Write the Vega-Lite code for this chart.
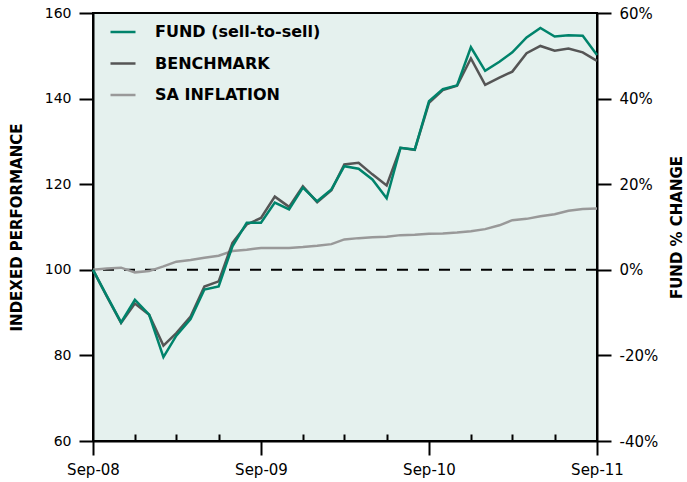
{
  "$schema": "https://vega.github.io/schema/vega-lite/v6.json",
  "width": 504,
  "height": 428,
  "autosize": {"type": "none"},
  "padding": {"left": 93, "top": 13, "right": 90, "bottom": 41},
  "background": "white",
  "config": {
    "font": "DejaVu Sans",
    "view": {"fill": "#e5f1ee", "stroke": "#000", "strokeWidth": 2},
    "axis": {
      "domainColor": "#000", "domainWidth": 2, "tickColor": "#000", "tickWidth": 2,
      "labelColor": "#000", "labelFontSize": 14, "titleFontSize": 15, "titleFontWeight": "bold",
      "titleColor": "#000", "grid": false, "labelFont": "DejaVu Sans", "titleFont": "DejaVu Sans"
    }
  },
  "datasets": {
    "perf": [
      {"date": "2008-09-01", "fund": 100, "benchmark": 100, "inflation": 100},
      {"date": "2008-10-01", "fund": 93.9, "benchmark": 93.8, "inflation": 100.3},
      {"date": "2008-11-01", "fund": 87.7, "benchmark": 87.6, "inflation": 100.5},
      {"date": "2008-12-01", "fund": 93.0, "benchmark": 92.1, "inflation": 99.4},
      {"date": "2009-01-01", "fund": 89.5, "benchmark": 89.5, "inflation": 99.7},
      {"date": "2009-02-01", "fund": 79.6, "benchmark": 82.3, "inflation": 100.8},
      {"date": "2009-03-01", "fund": 84.6, "benchmark": 85.2, "inflation": 101.9},
      {"date": "2009-04-01", "fund": 88.5, "benchmark": 89.1, "inflation": 102.3},
      {"date": "2009-05-01", "fund": 95.4, "benchmark": 96.1, "inflation": 102.8},
      {"date": "2009-06-01", "fund": 96.1, "benchmark": 97.3, "inflation": 103.3},
      {"date": "2009-07-01", "fund": 105.5, "benchmark": 106.3, "inflation": 104.4},
      {"date": "2009-08-01", "fund": 111.0, "benchmark": 110.6, "inflation": 104.7},
      {"date": "2009-09-01", "fund": 111.0, "benchmark": 112.1, "inflation": 105.1},
      {"date": "2009-10-01", "fund": 115.7, "benchmark": 117.1, "inflation": 105.1},
      {"date": "2009-11-01", "fund": 114.1, "benchmark": 114.7, "inflation": 105.1},
      {"date": "2009-12-01", "fund": 119.2, "benchmark": 119.5, "inflation": 105.3},
      {"date": "2010-01-01", "fund": 116.0, "benchmark": 115.8, "inflation": 105.6},
      {"date": "2010-02-01", "fund": 118.8, "benchmark": 118.6, "inflation": 106.0},
      {"date": "2010-03-01", "fund": 124.2, "benchmark": 124.6, "inflation": 107.1},
      {"date": "2010-04-01", "fund": 123.6, "benchmark": 125.0, "inflation": 107.4},
      {"date": "2010-05-01", "fund": 121.1, "benchmark": 122.3, "inflation": 107.6},
      {"date": "2010-06-01", "fund": 116.7, "benchmark": 119.7, "inflation": 107.7},
      {"date": "2010-07-01", "fund": 128.5, "benchmark": 128.5, "inflation": 108.1},
      {"date": "2010-08-01", "fund": 128.1, "benchmark": 128.0, "inflation": 108.2},
      {"date": "2010-09-01", "fund": 139.4, "benchmark": 139.0, "inflation": 108.4},
      {"date": "2010-10-01", "fund": 142.2, "benchmark": 142.0, "inflation": 108.5},
      {"date": "2010-11-01", "fund": 143.1, "benchmark": 143.0, "inflation": 108.7},
      {"date": "2010-12-01", "fund": 152.0, "benchmark": 149.4, "inflation": 109.0},
      {"date": "2011-01-01", "fund": 146.5, "benchmark": 143.2, "inflation": 109.5},
      {"date": "2011-02-01", "fund": 148.6, "benchmark": 144.9, "inflation": 110.4},
      {"date": "2011-03-01", "fund": 150.8, "benchmark": 146.3, "inflation": 111.6},
      {"date": "2011-04-01", "fund": 154.3, "benchmark": 150.6, "inflation": 111.9},
      {"date": "2011-05-01", "fund": 156.5, "benchmark": 152.3, "inflation": 112.5},
      {"date": "2011-06-01", "fund": 154.5, "benchmark": 151.2, "inflation": 113.0},
      {"date": "2011-07-01", "fund": 154.8, "benchmark": 151.7, "inflation": 113.8},
      {"date": "2011-08-01", "fund": 154.7, "benchmark": 150.8, "inflation": 114.2},
      {"date": "2011-09-01", "fund": 150.2, "benchmark": 148.8, "inflation": 114.3}
    ]
  },
  "layer": [
    {
      "data": {"name": "perf"},
      "mark": {"type": "line", "opacity": 0},
      "encoding": {
        "x": {
          "field": "date", "type": "temporal",
          "scale": {"type": "utc", "domain": [{"year": 2008, "month": 9, "date": 1, "utc": true}, {"year": 2011, "month": 9, "date": 1, "utc": true}]},
          "axis": {
            "orient": "bottom", "title": null, "labels": false, "domain": false, "tickSize": -7,
            "values": [
              {"year": 2008, "month": 12, "date": 1, "utc": true},
              {"year": 2009, "month": 3, "date": 1, "utc": true},
              {"year": 2009, "month": 6, "date": 1, "utc": true},
              {"year": 2009, "month": 12, "date": 1, "utc": true},
              {"year": 2010, "month": 3, "date": 1, "utc": true},
              {"year": 2010, "month": 6, "date": 1, "utc": true},
              {"year": 2010, "month": 12, "date": 1, "utc": true},
              {"year": 2011, "month": 3, "date": 1, "utc": true},
              {"year": 2011, "month": 6, "date": 1, "utc": true}
            ]
          }
        },
        "y": {"field": "fund", "type": "quantitative", "scale": {"domain": [60, 160]}, "axis": null}
      }
    },
    {
      "data": {"values": [{}]},
      "mark": {"type": "rule", "strokeDash": [11, 10], "strokeWidth": 2, "color": "#000"},
      "encoding": {
        "y": {
          "datum": 0, "type": "quantitative",
          "scale": {"domain": [-0.4, 0.6]},
          "axis": {
            "orient": "right", "values": [-0.4, -0.2, 0, 0.2, 0.4, 0.6],
            "labelExpr": "(datum.value < -0.001 ? '-' : '') + format(abs(datum.value), '.0%')",
            "labelFontSize": 15,
            "tickSize": 14, "labelPadding": 8, "title": "FUND % CHANGE", "titleAngle": 270,
            "titlePadding": 27, "domain": true
          }
        }
      }
    },
    {
      "data": {"name": "perf"},
      "transform": [{"fold": ["inflation", "benchmark", "fund"], "as": ["series", "value"]}],
      "mark": {"type": "line", "strokeWidth": 2.5},
      "encoding": {
        "x": {
          "field": "date", "type": "temporal",
          "scale": {"type": "utc", "domain": [{"year": 2008, "month": 9, "date": 1, "utc": true}, {"year": 2011, "month": 9, "date": 1, "utc": true}]},
          "axis": {
            "orient": "bottom", "title": null, "labelExpr": "utcFormat(datum.value, '%b-%y')", "labelFlush": false,
            "labelFontSize": 15, "tickSize": 14, "labelPadding": 7,
            "values": [
              {"year": 2008, "month": 9, "date": 1, "utc": true},
              {"year": 2009, "month": 9, "date": 1, "utc": true},
              {"year": 2010, "month": 9, "date": 1, "utc": true},
              {"year": 2011, "month": 9, "date": 1, "utc": true}
            ]
          }
        },
        "y": {
          "field": "value", "type": "quantitative", "scale": {"domain": [60, 160]},
          "axis": {"orient": "left", "values": [60, 80, 100, 120, 140, 160], "tickSize": 14, "labelPadding": 8, "title": "INDEXED PERFORMANCE", "titlePadding": 20}
        },
        "color": {
          "field": "series", "type": "nominal",
          "scale": {"domain": ["fund", "benchmark", "inflation"], "range": ["#00836b", "#555555", "#999999"]},
          "legend": {
            "title": null, "orient": "none", "legendX": 16, "legendY": 5,
            "symbolType": "stroke", "symbolSize": 625, "symbolStrokeWidth": 2.5,
            "labelFontSize": 16, "labelFontWeight": "bold", "labelColor": "#000", "labelFont": "DejaVu Sans",
            "labelOffset": 18, "rowPadding": 9.5, "labelLimit": 400,
            "labelExpr": "datum.value == 'fund' ? 'FUND (sell-to-sell)' : datum.value == 'benchmark' ? 'BENCHMARK' : 'SA INFLATION'"
          }
        }
      }
    }
  ],
  "resolve": {"scale": {"y": "independent"}, "axis": {"x": "independent"}}
}
